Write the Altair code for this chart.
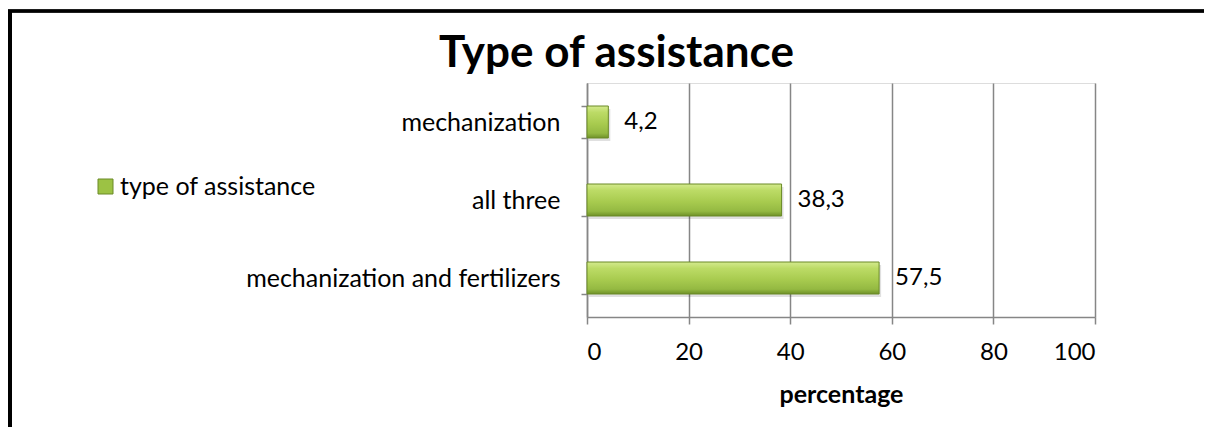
import altair as alt
import pandas as pd

categories = ["mechanization", "all three", "mechanization and fertilizers"]
values = [4.2, 38.3, 57.5]
series_name = "type of assistance"
chart_title = "Type of assistance"
x_ticks = [0, 20, 40, 60, 80, 100]

df = pd.DataFrame({"category": categories, "value": values})

FONT = "Lato"
AXIS_GRAY = "#868686"

y_enc = alt.Y(
    "category:N",
    sort=categories,
    scale=alt.Scale(paddingInner=0.59, paddingOuter=0.295),
    axis=alt.Axis(
        title=None, tickBand="extent", tickSize=6, labelPadding=21,
        labelFontSize=25, labelColor="black", labelFont=FONT,
        domainColor=AXIS_GRAY, tickColor=AXIS_GRAY, grid=False,
        domainWidth=1.5, tickWidth=1.5, labelLimit=0,
    ),
)
x_enc = alt.X(
    "value:Q",
    scale=alt.Scale(domain=[0, 100], nice=False),
    axis=alt.Axis(
        values=x_ticks, title="percentage", titleFont=FONT, titleFontSize=25,
        titleFontWeight="bold", titleColor="black", titlePadding=18,
        labelFontSize=24, labelFont=FONT, labelColor="black", labelPadding=16,
        tickSize=7, domainColor=AXIS_GRAY, tickColor=AXIS_GRAY, gridColor=AXIS_GRAY,
        grid=True, gridWidth=1.5, domainWidth=1.5, tickWidth=1.5,
    ),
)

base = alt.Chart(df)

shadow = base.mark_bar(fill="#000000", opacity=0.12, yOffset=3, xOffset=2).encode(
    x=x_enc, y=y_enc
)

gradient = alt.Gradient(
    gradient="linear",
    x1=0, y1=0, x2=0, y2=1,
    stops=[
        alt.GradientStop(color="#d4ea8e", offset=0.0),
        alt.GradientStop(color="#bcdb66", offset=0.2),
        alt.GradientStop(color="#a8cb4f", offset=0.55),
        alt.GradientStop(color="#94b942", offset=0.85),
        alt.GradientStop(color="#6f9128", offset=1.0),
    ],
)

bars = base.mark_bar(fill=gradient, stroke="#6a8a27", strokeWidth=1).encode(
    x=x_enc, y=y_enc
)

labels = base.transform_calculate(
    label="replace(format(datum.value, '.1f'), '.', ',')"
).mark_text(align="left", baseline="middle", dx=16, fontSize=24, font=FONT, color="black").encode(
    x="value:Q", y=alt.Y("category:N", sort=categories), text="label:N"
)

legend_layer = base.transform_calculate(series=f"'{series_name}'").mark_square(
    opacity=0
).encode(
    x="value:Q",
    y=alt.Y("category:N", sort=categories),
    color=alt.Color(
        "series:N",
        scale=alt.Scale(range=["#9cc244"]),
        legend=alt.Legend(
            title=None, orient="none", legendX=-494, legendY=91,
            symbolType="square", symbolSize=225, symbolOpacity=1,
            symbolStrokeColor="#6a8a27", symbolStrokeWidth=1,
            labelFontSize=25, labelFont=FONT, labelColor="black",
            labelOffset=2, padding=0, labelLimit=0,
        ),
    ),
)

title_text = alt.Chart(pd.DataFrame({"t": [chart_title]})).mark_text(
    font=FONT, fontSize=44, fontWeight="bold", color="black",
    align="center", baseline="alphabetic",
).encode(x=alt.value(29.5), y=alt.value(-16.5), text="t:N")

frame_left = alt.Chart(df).mark_rule(color="black", strokeWidth=4).encode(
    x=alt.value(-577), y=alt.value(-73), y2=alt.value(400)
)
frame_top = alt.Chart(df).mark_rule(color="black", strokeWidth=3).encode(
    y=alt.value(-72), x=alt.value(-579), x2=alt.value(700)
)

chart = alt.layer(shadow, bars, labels, legend_layer, title_text, frame_left, frame_top).properties(
    width=508,
    height=234,
    autosize=alt.AutoSizeParams(type="none"),
    padding={"left": 579, "top": 75, "right": 109, "bottom": 110},
).configure_view(stroke=None).configure(background="white")

chart.save("out.html", embed_options={"renderer": "svg", "actions": False})
